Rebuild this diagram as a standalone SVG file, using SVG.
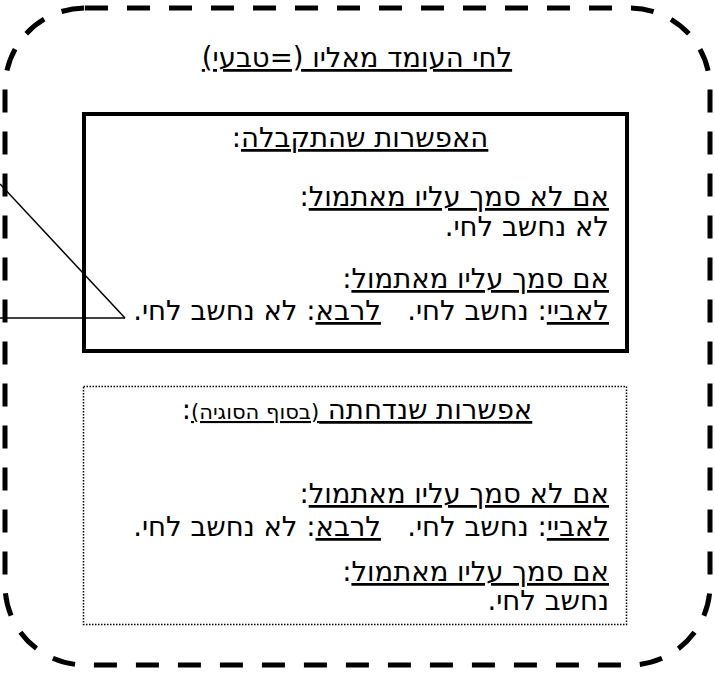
<svg xmlns="http://www.w3.org/2000/svg" width="715" height="674" viewBox="0 0 715 674">
<style>
text{font-family:"DejaVu Sans","Noto Sans",sans-serif;font-size:27.5px;fill:#000;white-space:pre}
.r{direction:rtl;text-anchor:start}
.c{direction:rtl;text-anchor:middle}
.u{text-decoration:underline;text-decoration-thickness:2.5px}
.sm{font-size:21px}
</style>
<rect width="715" height="674" fill="#fff"/>
<g id="outer">
<rect x="5" y="8" width="705" height="657" rx="80" ry="80" fill="none" stroke="#000" stroke-width="5" stroke-dasharray="23 19"/>
<text class="c" x="357" y="67"><tspan class="u">לחי העומד מאליו (=טבעי)</tspan></text>
</g>
<g id="accepted">
<rect x="84" y="114" width="543" height="237" fill="none" stroke="#000" stroke-width="4"/>
<text class="c" x="360" y="147"><tspan class="u">האפשרות שהתקבלה</tspan>:</text>
<text class="r" x="609" y="206"><tspan class="u">אם לא סמך עליו מאתמול</tspan>:</text>
<text class="r" x="609" y="236">לא נחשב לחי.</text>
<text class="r" x="609" y="288"><tspan class="u">אם סמך עליו מאתמול</tspan>:</text>
<text class="r" x="609" y="320"><tspan class="u">לאביי</tspan>: נחשב לחי.   <tspan class="u">לרבא</tspan>: לא נחשב לחי.</text>
</g>
<g id="rejected">
<rect x="83.5" y="386.5" width="543" height="238" fill="none" stroke="#000" stroke-width="1.5" stroke-dasharray="1.5 1.5"/>
<text class="c" x="357" y="419"><tspan class="u">אפשרות שנדחתה <tspan class="sm">(בסוף הסוגיה)</tspan></tspan>:</text>
<text class="r" x="609" y="503"><tspan class="u">אם לא סמך עליו מאתמול</tspan>:</text>
<text class="r" x="609" y="536"><tspan class="u">לאביי</tspan>: נחשב לחי.   <tspan class="u">לרבא</tspan>: לא נחשב לחי.</text>
<text class="r" x="609" y="581"><tspan class="u">אם סמך עליו מאתמול</tspan>:</text>
<text class="r" x="609" y="610">נחשב לחי.</text>
</g>
<g id="connectors" fill="none" stroke="#000" stroke-width="1.5">
<line x1="0" y1="184" x2="125" y2="318"/>
<line x1="0" y1="318" x2="125" y2="318"/>
</g>
</svg>
